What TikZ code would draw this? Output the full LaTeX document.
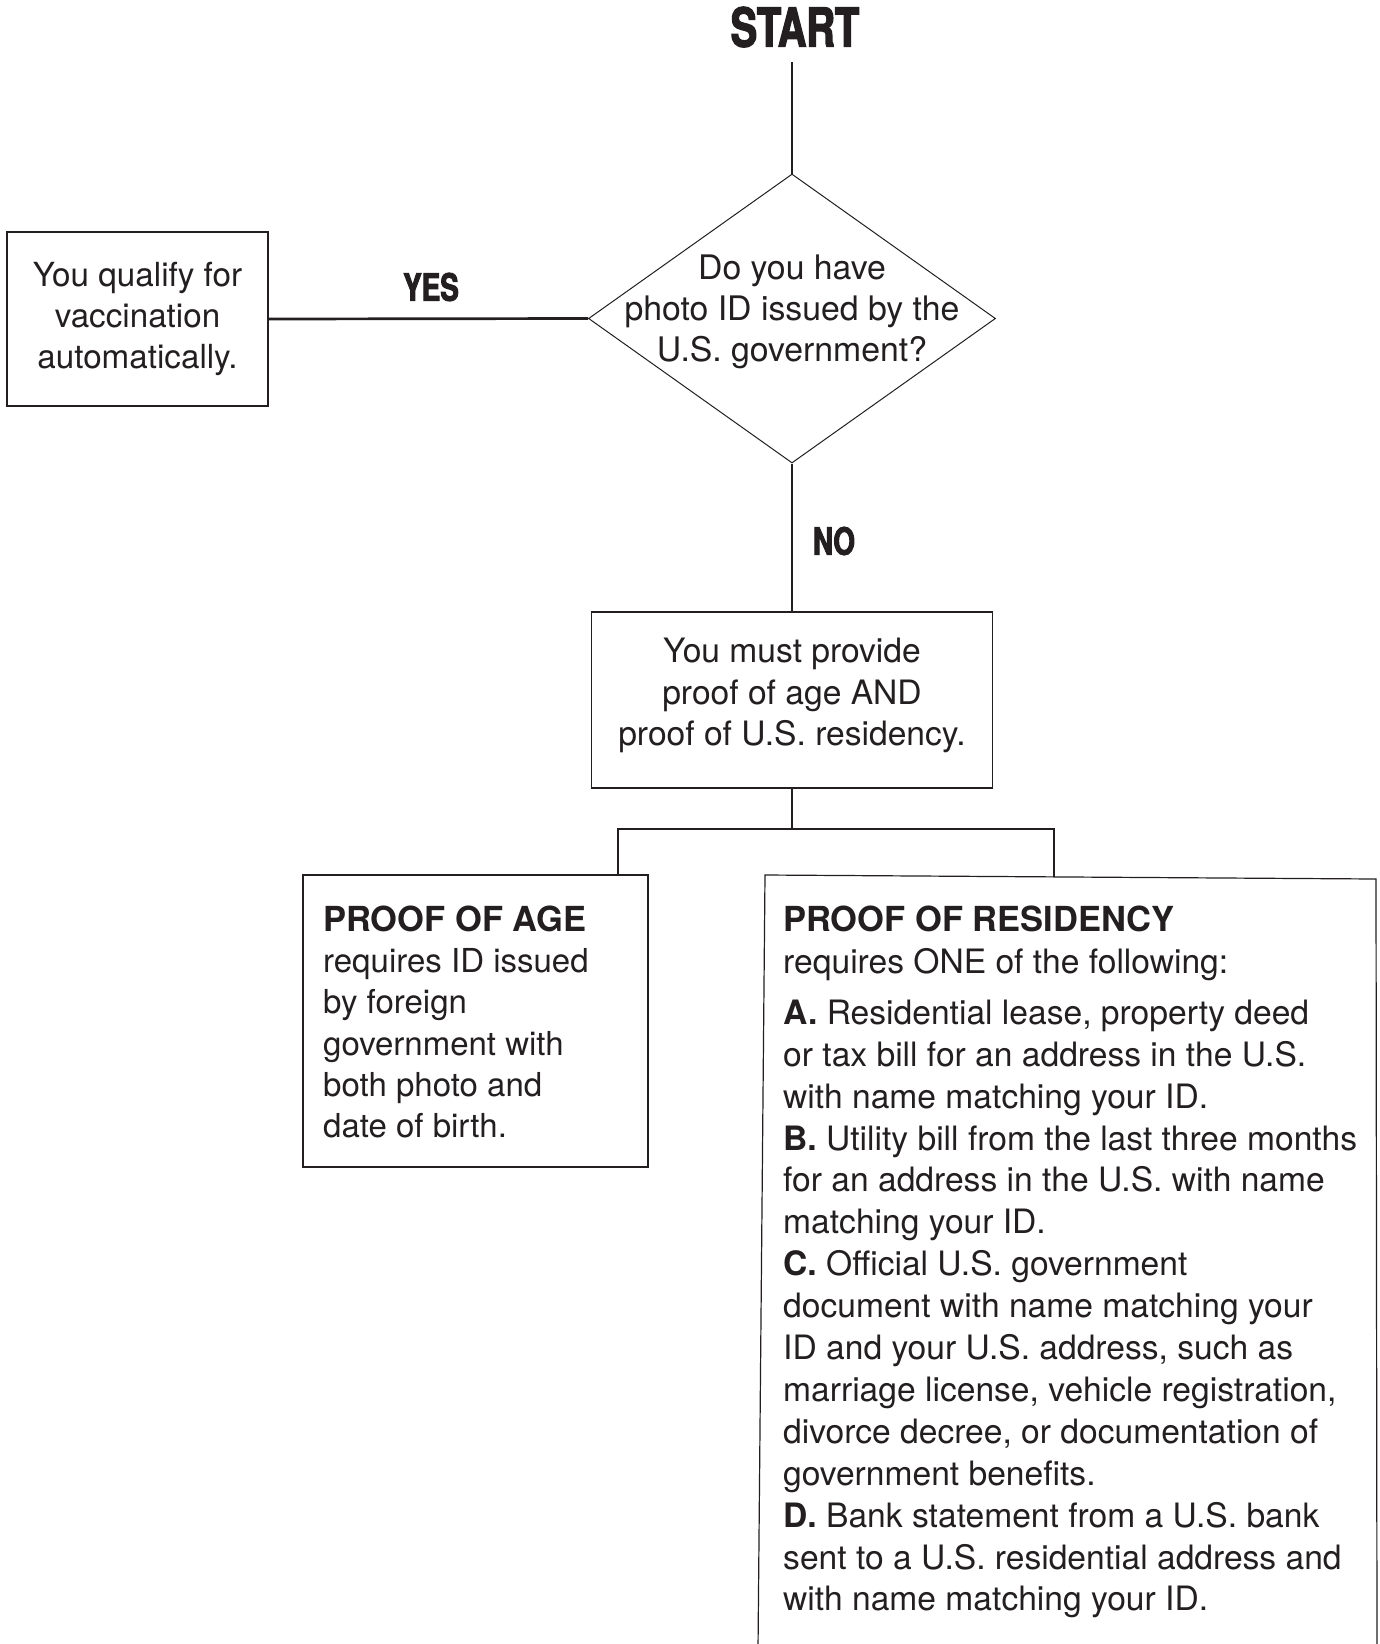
\documentclass[tikz,border=0pt]{standalone}
\usepackage{fontspec}
\setmainfont{TeX Gyre Heros}
\newfontfamily\heavyfont{TeX Gyre Heros}[FakeStretch=0.74,FakeBold=2.5]
\usetikzlibrary{shapes.geometric,calc}
\definecolor{ink}{HTML}{231F20}
\begin{document}
\begin{tikzpicture}[x=1pt,y=-1pt,
  body/.style={font=\fontsize{33}{41.3}\selectfont, text=ink},
  box/.style={draw=ink, line width=1.2pt, rectangle, inner sep=0pt, align=center, body},
  conn/.style={draw=ink, line width=2.7pt},
  heavylab/.style={font=\heavyfont\bfseries\fontsize{37.6}{40}\selectfont, text=ink, inner sep=0pt},
  txt/.style={body, inner sep=0pt, align=left, anchor=north west}
]
\useasboundingbox (0,0) rectangle (1379,1644);
\fill[white] (0,0) rectangle (1379,1644);

% START
\node[heavylab, font=\heavyfont\bfseries\fontsize{53.6}{56}\selectfont] (start) at (795,27) {START};

% decision
\node[diamond, draw=ink, line width=1pt, minimum width=407, minimum height=289, inner sep=0pt] (q) at (792,318.5) {};
\node[body, font=\fontsize{33.8}{41.3}\selectfont, inner sep=0pt, align=center, anchor=north] (qtext) at (792,250) {\strut Do you have\\photo ID issued by the\\U.S. government?};

% yes box
\node[box, font=\fontsize{33.2}{41.3}\selectfont, minimum width=261, minimum height=174] (yesbox) at (137.5,319) {You qualify for\\vaccination\\automatically.};

% middle box
\node[box, font=\fontsize{33.6}{41.3}\selectfont, minimum width=401, minimum height=176] (mid) at (792,700) {You must provide\\proof of age AND\\proof of U.S. residency.\rule[-16pt]{0pt}{0pt}};

% labels
\node[heavylab] (yes) at (431,287) {YES};
\node[heavylab] (no) at (834,541) {NO};

% proof of age box
\node[draw=ink, line width=1.2pt, rectangle, minimum width=345, minimum height=292, inner sep=0pt] (age) at (475.5,1021) {};
\node[txt] (agetext) at (323,902) {{\fontsize{34.5}{41.3}\selectfont\bfseries\strut PROOF OF AGE}\\
requires ID issued\\
by foreign\\
government with\\
both photo and\\
date of birth.};

% proof of residency box (open at the bottom, slightly skewed)
\coordinate (resBL) at (758,1650);
\coordinate (resTL) at (765,875);
\coordinate (resTR) at (1376,879);
\coordinate (resBR) at (1377,1650);
\draw[ink, line width=1.2pt] (resBL) -- (resTL) -- (resTR) -- (resBR);
\coordinate (resN) at (1054,877);
\node[txt, font=\fontsize{33.6}{41.9}\selectfont] (restext) at (783,902) {{\fontsize{34.5}{41.9}\selectfont\bfseries\strut PROOF OF RESIDENCY}\\
requires ONE of the following:\\[9pt]
\textbf{A.} Residential lease, property deed\\
or tax bill for an address in the U.S.\\
with name matching your ID.\\
\textbf{B.} Utility bill from the last three months\\
for an address in the U.S. with name\\
matching your ID.\\
\textbf{C.} Official U.S. government\\
document with name matching your\\
ID and your U.S. address, such as\\
marriage license, vehicle registration,\\
divorce decree, or documentation of\\
government benefits.\\
\textbf{D.} Bank statement from a U.S. bank\\
sent to a U.S. residential address and\\
with name matching your ID.};

% connectors
\draw[conn] ([yshift=-15pt]start.south -| q.north) -- (q.north);
\draw[conn] (q.west) -- (yesbox.east);
\draw[conn] (q.south) -- (mid.north);
\coordinate (jL) at (618,829);
\coordinate (jR) at (1054,829);
\draw[conn] (mid.south) -- (mid.south |- jL);
\draw[conn, line cap=rect] (jL) -- (jR);
\draw[conn] (jL) -- (jL |- age.north);
\draw[conn] (jR) -- (resN);
\end{tikzpicture}
\end{document}
